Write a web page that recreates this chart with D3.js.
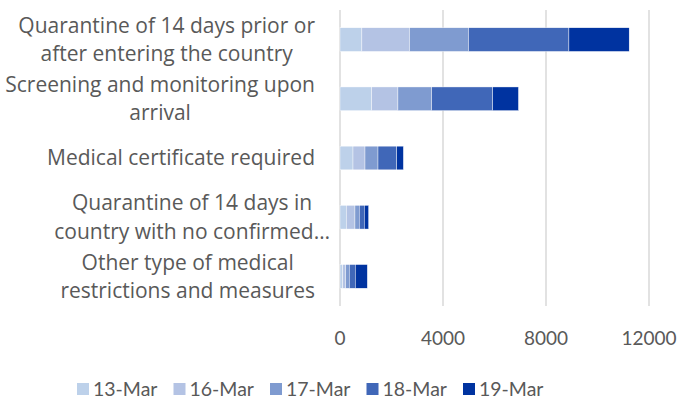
<!DOCTYPE html>
<html>
<head>
<meta charset="utf-8">
<script src="https://cdn.jsdelivr.net/npm/d3@7"></script>
<style>
  body { margin: 0; background: #fff; }
  svg text { font-family: Lato, "Open Sans", sans-serif; fill: #595959; }
  svg text.cat { font-family: "Open Sans", sans-serif; }
</style>
</head>
<body>
<svg id="chart" width="681" height="400"></svg>
<script>
// Categories, top to bottom (label lines split for wrapping)
const categories = [
  ['Quarantine of 14 days prior or', 'after entering the country'],
  ['Screening and monitoring upon', 'arrival'],
  ['Medical certificate required'],
  ['Quarantine of 14 days in', 'country with no confirmed\u2026'],
  ['Other type of medical', 'restrictions and measures']
];

const seriesNames = ['13-Mar', '16-Mar', '17-Mar', '18-Mar', '19-Mar'];

// values per series, one per category
const mar13 = [850, 1230, 505, 245, 104];
const mar16 = [1850, 1020, 466, 336, 116];
const mar17 = [2290, 1310, 505, 168, 142];
const mar18 = [3900, 2370, 725, 194, 233];
const mar19 = [2340, 1000, 260, 168, 466];

const xTicks = [0, 4000, 8000, 12000];
const colors = ['#BDD1EA', '#B4C3E4', '#7F9BD0', '#4067B8', '#0033A0'];

const seriesValues = [mar13, mar16, mar17, mar18, mar19];

// Build rows for d3.stack
const rows = categories.map((c, i) => {
  const r = { idx: i };
  seriesNames.forEach((s, j) => { r[s] = seriesValues[j][i]; });
  return r;
});

const svg = d3.select('#chart');

const margin = { top: 10, left: 340, right: 32, bottom: 94 };
const width = 681 - margin.left - margin.right;
const height = 400 - margin.top - margin.bottom;

const g = svg.append('g').attr('transform', `translate(${margin.left},${margin.top})`);

const x = d3.scaleLinear().domain([0, 12000]).range([0, 309]);
const y = d3.scaleBand().domain(d3.range(categories.length)).range([0, height]).paddingInner(0.6).paddingOuter(0.3);

// Gridlines
g.selectAll('line.grid')
  .data(xTicks)
  .join('line')
  .attr('class', 'grid')
  .attr('x1', d => x(d)).attr('x2', d => x(d))
  .attr('y1', 0).attr('y2', height)
  .attr('stroke', '#D9D9D9')
  .attr('stroke-width', 1.5);

// Stacked bars
const stack = d3.stack().keys(seriesNames);
const layers = stack(rows);

g.selectAll('g.layer')
  .data(layers)
  .join('g')
  .attr('class', 'layer')
  .attr('fill', (d, i) => colors[i])
  .selectAll('rect')
  .data(d => d)
  .join('rect')
  .attr('x', d => x(d[0]))
  .attr('width', d => x(d[1]) - x(d[0]))
  .attr('y', d => y(d.data.idx))
  .attr('height', y.bandwidth())
  .attr('stroke', '#fff')
  .attr('stroke-width', 0.4);

// X tick labels
g.selectAll('text.tick')
  .data(xTicks)
  .join('text')
  .attr('class', 'tick')
  .attr('x', d => x(d))
  .attr('y', height + 39)
  .attr('text-anchor', 'middle')
  .style('font-size', '19px')
  .text(d => d);

// Category labels: lines centred in a block right-aligned near the axis
const lineH = 28.5;
categories.forEach((lines, i) => {
  const cy = y(i) + y.bandwidth() / 2;
  const t = g.append('text')
    .attr('class', 'cat')
    .attr('text-anchor', 'middle')
    .style('font-size', '21px');
  lines.forEach((ln, k) => {
    t.append('tspan')
      .attr('x', 0)
      .attr('y', cy + (k - (lines.length - 1) / 2) * lineH)
      .attr('dy', '0.35em')
      .text(ln);
  });
  const w = d3.max(t.selectAll('tspan').nodes(), n => n.getComputedTextLength());
  const rightEdge = lines[1] && lines[1].endsWith('\u2026') ? -10 : -25;
  t.selectAll('tspan').attr('x', rightEdge - w / 2);
});

// Legend
const legend = svg.append('g').attr('transform', 'translate(77,389)');
seriesNames.forEach((s, i) => {
  const item = legend.append('g').attr('transform', `translate(${i * 96.5},0)`);
  item.append('rect')
    .attr('x', 0).attr('y', -6)
    .attr('width', 12).attr('height', 12)
    .attr('fill', colors[i]);
  item.append('text')
    .attr('x', 16)
    .attr('y', 0)
    .attr('dy', '0.35em')
    .style('font-size', '19.5px')
    .text(s);
});
</script>
</body>
</html>
